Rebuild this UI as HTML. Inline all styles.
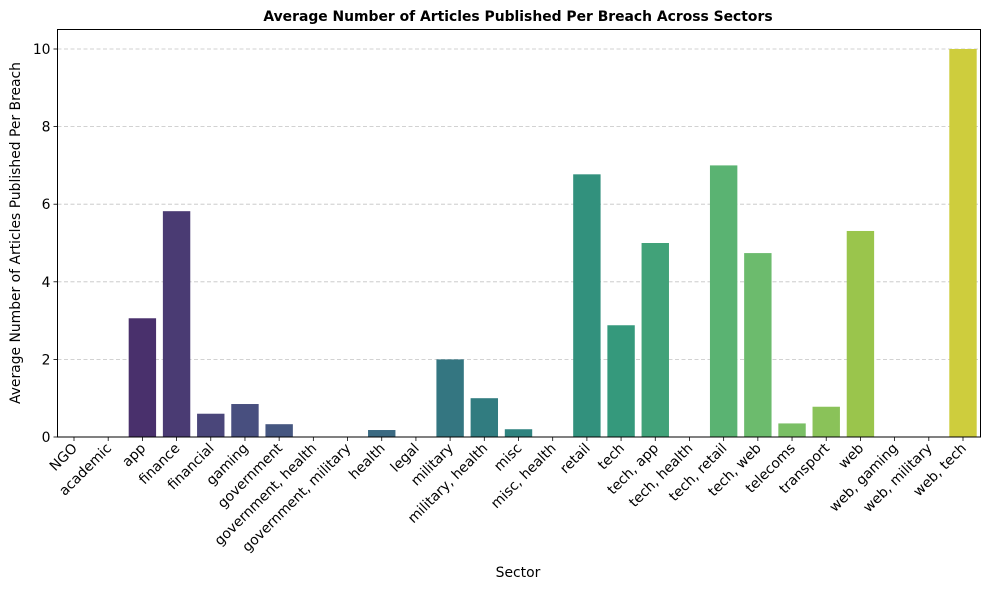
<!DOCTYPE html>
<html><head><meta charset="utf-8"><style>
html,body{margin:0;padding:0;background:#fff;}
svg{display:block;font-family:"DejaVu Sans","Liberation Sans",sans-serif;}
</style></head><body>
<svg id="chart" width="989" height="590" viewBox="0 0 989 590" xmlns="http://www.w3.org/2000/svg">
<rect x="0" y="0" width="989" height="590" fill="#fff"/>
<text x="518" y="21" text-anchor="middle" font-size="13.9" font-weight="bold">Average Number of Articles Published Per Breach Across Sectors</text>
<text x="518" y="577" text-anchor="middle" font-size="13.9">Sector</text>
<text transform="translate(20,233) rotate(-90)" text-anchor="middle" font-size="13.9">Average Number of Articles Published Per Breach</text>
<g id="grid"></g><g id="bars"></g><g id="axes"></g>
</svg>
<script>
const categories = ["NGO","academic","app","finance","financial","gaming","government","government, health","government, military","health","legal","military","military, health","misc","misc, health","retail","tech","tech, app","tech, health","tech, retail","tech, web","telecoms","transport","web","web, gaming","web, military","web, tech"];
const values = [0,0,3.06,5.82,0.6,0.85,0.33,0,0,0.18,0,2.0,1.0,0.2,0,6.77,2.88,5.0,0,7.0,4.74,0.35,0.78,5.31,0,0,10.0];
const yTicks = [0,2,4,6,8,10];
const NS="http://www.w3.org/2000/svg";
const L=57.5,R=980.5,T=29.5,B=437;
const x0=74, step=(963-74)/26, bw=27.4;
function xs(i){return x0+i*step;}
function ys(v){return B-(v/10)*(B-49);}
const vir=["#440154","#482475","#414487","#355f8d","#2a788e","#21918c","#22a884","#44bf70","#7ad151","#bddf26","#fde725"];
function hx(c){return [1,3,5].map(k=>parseInt(c.substr(k,2),16));}
function desat(rgb,s){
  let [r,g,b]=rgb.map(v=>v/255);
  const mx=Math.max(r,g,b),mn=Math.min(r,g,b),l=(mx+mn)/2;let h=0,sat=0;
  if(mx!==mn){const d=mx-mn;sat=l>0.5?d/(2-mx-mn):d/(mx+mn);
    if(mx===r)h=((g-b)/d+(g<b?6:0));else if(mx===g)h=(b-r)/d+2;else h=(r-g)/d+4;h/=6;}
  sat*=s;
  function h2r(p,q,t){if(t<0)t+=1;if(t>1)t-=1;if(t<1/6)return p+(q-p)*6*t;if(t<1/2)return q;if(t<2/3)return p+(q-p)*(2/3-t)*6;return p;}
  const q=l<0.5?l*(1+sat):l+sat-l*sat,p=2*l-q;
  return [h2r(p,q,h+1/3),h2r(p,q,h),h2r(p,q,h-1/3)].map(v=>Math.round(v*255));
}
function viridis(t){const p=t*10,i=Math.min(9,Math.floor(p)),f=p-i;const a=hx(vir[i]),b=hx(vir[i+1]);const c=a.map((v,k)=>v+(b[k]-v)*f);return "rgb("+desat(c,0.75).join(",")+")";}
function mk(tag,attrs,parent){const e=document.createElementNS(NS,tag);for(const k in attrs)e.setAttribute(k,attrs[k]);parent.appendChild(e);return e;}
const grid=document.getElementById('grid'),bars=document.getElementById('bars'),axes=document.getElementById('axes');
yTicks.forEach(v=>{
  const g=mk('line',{x1:L,x2:R,y1:ys(v),y2:ys(v),stroke:'#c4c4c4','stroke-dasharray':'4,2.5','stroke-width':0.8},grid);
  
  
  const t=mk('line',{x1:L-4,x2:L,y1:ys(v),y2:ys(v),stroke:'#000','stroke-width':0.8},axes);
  
  
  const tx=mk('text',{x:L-7,y:ys(v)+5,'text-anchor':'end','font-size':13.9},axes);
  tx.textContent=v;
  
  
});
categories.forEach((c,i)=>{
  const v=values[i];
  if(v>0){
    const r=mk('rect',{x:xs(i)-bw/2,y:ys(v),width:bw,height:B-ys(v),fill:viridis((i+1)/28)},bars);
    
    
  }
  const t=mk('line',{x1:xs(i),x2:xs(i),y1:B,y2:B+4,stroke:'#000','stroke-width':0.8},axes);
  
  
  const tx=mk('text',{transform:'translate('+(xs(i)+4)+','+(B+12)+') rotate(-45)','text-anchor':'end','font-size':13.9},axes);
  tx.textContent=c;
  
  
});
const fr=mk('rect',{x:L,y:T,width:R-L,height:B-T,fill:'none',stroke:'#000','stroke-width':1},axes);


</script>
</body></html>
